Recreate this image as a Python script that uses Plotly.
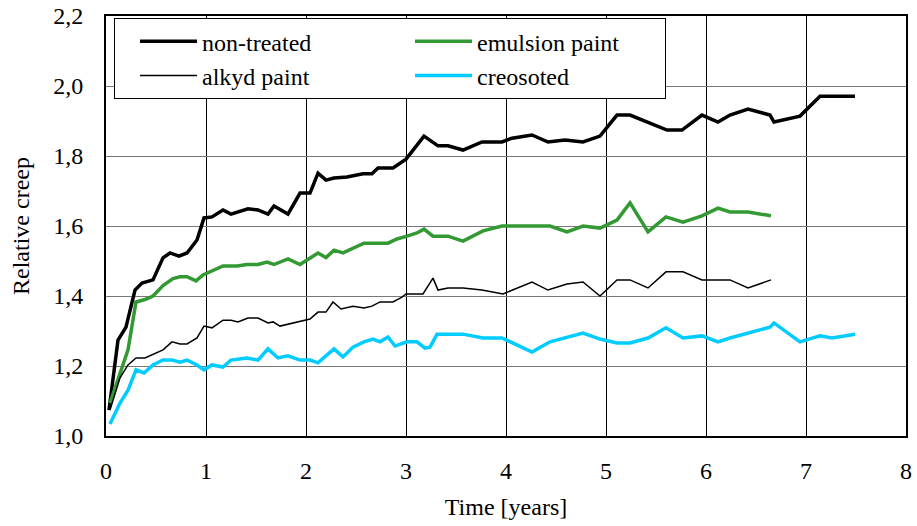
import plotly.graph_objects as go

# ---- data ----
nt_t = [0.03,0.12,0.20,0.29,0.36,0.47,0.57,0.64,0.73,0.81,0.91,0.98,1.06,1.17,1.25,1.42,1.52,1.62,1.68,1.82,1.94,2.04,2.12,2.20,2.28,2.41,2.57,2.66,2.72,2.87,3.00,3.18,3.32,3.42,3.57,3.76,3.96,4.06,4.26,4.42,4.59,4.77,4.94,5.11,5.24,5.42,5.61,5.76,5.96,6.12,6.24,6.42,6.64,6.68,6.94,7.14,7.49]
nt_v = [1.074,1.274,1.311,1.417,1.437,1.446,1.509,1.523,1.514,1.523,1.56,1.623,1.626,1.646,1.634,1.649,1.646,1.634,1.657,1.634,1.694,1.694,1.751,1.731,1.737,1.74,1.749,1.749,1.766,1.766,1.791,1.857,1.829,1.829,1.817,1.84,1.84,1.851,1.86,1.84,1.846,1.84,1.857,1.917,1.917,1.897,1.874,1.874,1.917,1.897,1.917,1.934,1.917,1.897,1.914,1.971,1.971]

em_t = [0.04,0.22,0.30,0.39,0.47,0.57,0.67,0.74,0.81,0.90,0.97,1.07,1.17,1.31,1.41,1.52,1.61,1.68,1.82,1.94,2.04,2.12,2.20,2.28,2.37,2.47,2.58,2.82,2.91,3.01,3.11,3.18,3.27,3.42,3.57,3.77,3.96,4.44,4.61,4.77,4.94,5.11,5.24,5.42,5.60,5.77,5.96,6.12,6.24,6.42,6.65]
em_v = [1.094,1.246,1.383,1.39,1.40,1.43,1.45,1.455,1.455,1.443,1.46,1.474,1.486,1.486,1.49,1.49,1.497,1.49,1.506,1.49,1.508,1.523,1.51,1.531,1.523,1.537,1.551,1.551,1.563,1.571,1.58,1.591,1.571,1.571,1.557,1.586,1.60,1.60,1.583,1.60,1.594,1.617,1.666,1.583,1.626,1.611,1.629,1.651,1.64,1.64,1.629]

al_t = [0.04,0.14,0.22,0.30,0.39,0.47,0.57,0.66,0.74,0.81,0.91,0.98,1.06,1.17,1.25,1.32,1.42,1.52,1.62,1.67,1.74,2.04,2.12,2.20,2.27,2.35,2.47,2.58,2.66,2.74,2.87,2.96,3.00,3.17,3.27,3.32,3.42,3.57,3.76,3.97,4.26,4.42,4.61,4.77,4.94,5.11,5.24,5.42,5.60,5.77,5.96,6.24,6.42,6.65]
al_v = [1.074,1.166,1.203,1.223,1.223,1.234,1.246,1.269,1.263,1.263,1.28,1.314,1.309,1.331,1.331,1.326,1.337,1.337,1.323,1.326,1.314,1.334,1.354,1.354,1.383,1.363,1.371,1.366,1.371,1.383,1.383,1.397,1.406,1.406,1.451,1.417,1.423,1.423,1.417,1.406,1.44,1.417,1.434,1.44,1.40,1.446,1.446,1.423,1.469,1.469,1.446,1.446,1.423,1.446]

cr_t = [0.04,0.14,0.22,0.30,0.38,0.47,0.57,0.66,0.74,0.81,0.91,0.98,1.06,1.17,1.25,1.41,1.52,1.62,1.72,1.82,1.94,2.04,2.12,2.28,2.37,2.47,2.58,2.67,2.74,2.82,2.89,3.01,3.11,3.19,3.24,3.31,3.57,3.77,3.96,4.04,4.26,4.44,4.61,4.77,4.94,5.11,5.24,5.42,5.60,5.77,5.96,6.12,6.24,6.42,6.64,6.68,6.94,7.14,7.26,7.49]
cr_v = [1.034,1.094,1.131,1.189,1.18,1.203,1.217,1.217,1.211,1.217,1.203,1.189,1.203,1.197,1.217,1.223,1.217,1.249,1.223,1.229,1.217,1.217,1.209,1.249,1.226,1.254,1.269,1.277,1.269,1.283,1.257,1.269,1.269,1.251,1.254,1.291,1.291,1.28,1.28,1.269,1.24,1.269,1.283,1.294,1.277,1.266,1.266,1.28,1.309,1.28,1.286,1.269,1.28,1.294,1.311,1.323,1.269,1.286,1.28,1.291]

x_tickvals = [0, 1, 2, 3, 4, 5, 6, 7, 8]
x_ticktext = ["0", "1", "2", "3", "4", "5", "6", "7", "8"]
y_tickvals = [1.0, 1.2, 1.4, 1.6, 1.8, 2.0, 2.2]
y_ticktext = ["1,0", "1,2", "1,4", "1,6", "1,8", "2,0", "2,2"]

series = [
    ("non-treated", nt_t, nt_v, "#000000", 3.5),
    ("emulsion paint", em_t, em_v, "#339933", 3.5),
    ("alkyd paint", al_t, al_v, "#000000", 1.5),
    ("creosoted", cr_t, cr_v, "#00CCFF", 3.5),
]

FONT = "Liberation Serif"
FS = 24
fnt = dict(family=FONT, size=FS, color="#000000")

fig = go.Figure()
for name, t, v, col, w in series:
    fig.add_trace(go.Scatter(x=t, y=v, mode="lines", name=name,
                             line=dict(color=col, width=w)))

fig.update_layout(
    width=917, height=526,
    margin=dict(l=106, r=11, t=16, b=90),
    plot_bgcolor="white",
    showlegend=True,
    legend=dict(
        orientation="h", x=0.01, y=0.995, xanchor="left", yanchor="top",
        entrywidth=183, entrywidthmode="pixels",
        itemwidth=57, indentation=20,
        bordercolor="#000000", borderwidth=1, bgcolor="white",
        font=fnt, tracegroupgap=0,
    ),
    xaxis=dict(
        range=[0, 8], tickmode="array", tickvals=x_tickvals, ticktext=x_ticktext,
        showgrid=True, gridcolor="#000000", gridwidth=1,
        zeroline=False, showline=True, linecolor="black", linewidth=2, mirror=True,
        ticks="", ticklabelstandoff=12, automargin=False,
        tickfont=fnt,
        title=dict(text="Time [years]", font=fnt, standoff=15),
    ),
    yaxis=dict(
        range=[1.0, 2.2], tickmode="array", tickvals=y_tickvals, ticktext=y_ticktext,
        showgrid=True, gridcolor="#777777", gridwidth=1,
        zeroline=False, showline=True, linecolor="black", linewidth=2, mirror=True,
        ticks="", ticklabelstandoff=16, automargin=False,
        tickfont=fnt,
        title=dict(text="Relative creep", font=fnt, standoff=17),
    ),
)

fig.write_html("out.html")
